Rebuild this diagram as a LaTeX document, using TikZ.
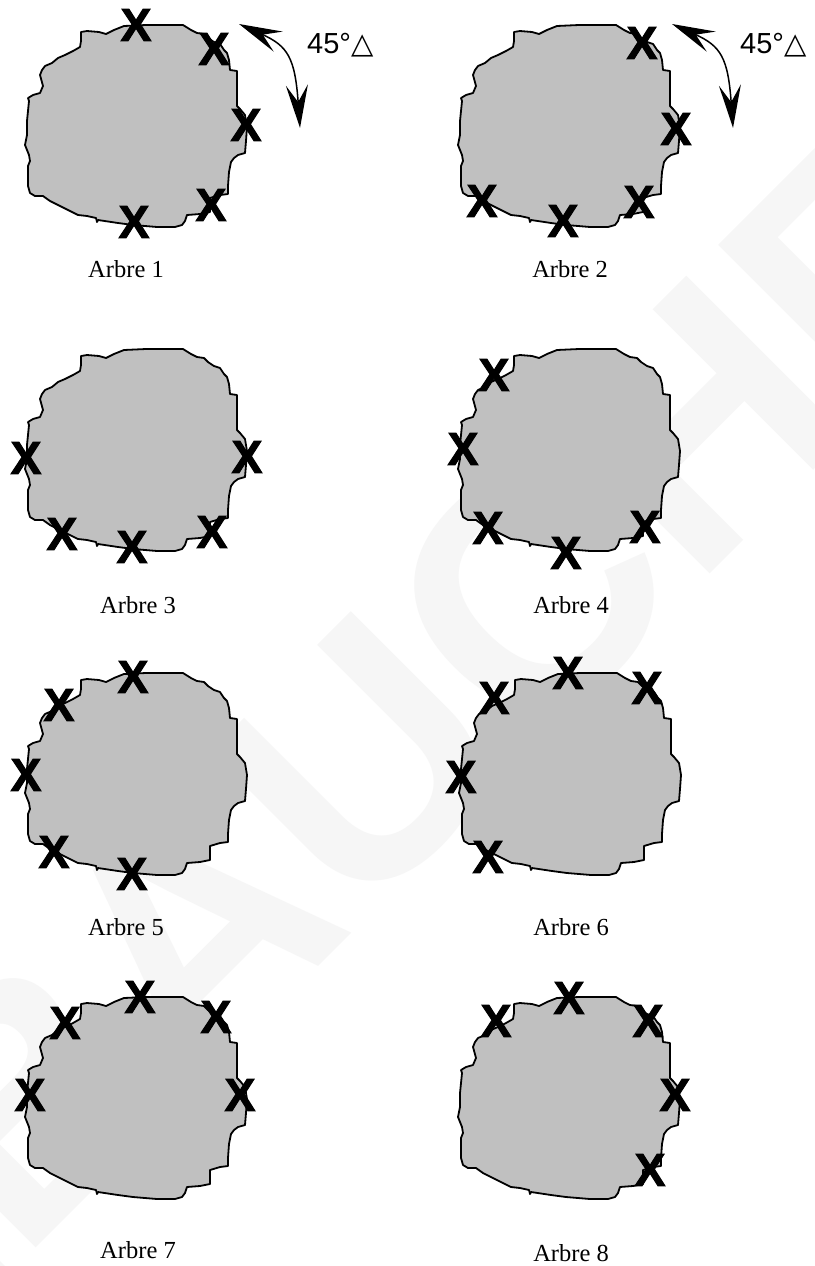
\documentclass[tikz,border=0pt]{standalone}
\usepackage{fontspec}
\setmainfont{Liberation Serif}
\newfontfamily\xsans{Liberation Sans}
\newfontfamily\xheavy{Liberation Sans Bold}[FakeBold=2.2]
\newfontfamily\dejavu{DejaVu Sans}
\usetikzlibrary{arrows.meta}
\definecolor{blobgray}{RGB}{192,192,192}
\definecolor{wmgray}{RGB}{246,246,246}
\newcommand{\treeblob}[3]{%
  \draw[blobstyle, shift={(#1,#2)}] (81,32) -- (87,31) -- (99,32) -- (106,34) -- (114,30) -- (124,26) -- (146,25) -- (183,25) -- (191,30) -- (197,33) -- (204,34) -- (208,38) -- (214,42) -- (220,44) -- (224,50) -- (227,53) -- (229,60) -- (230,70) -- (237,71) -- (237,106) -- (240,109) -- (245,115) -- (247,127) -- (246,141) -- (245,153) -- (238,155) -- (234,158) -- (231,162) -- (229,172) -- (228,186) -- (228,194) -- (220,195) -- (210,198) -- (210,212) -- (200,214) -- (187,215) -- (185,221) -- (182,225) -- (175,227) -- (157,227) -- (133,225) -- (118,223) -- (98,220) -- (97,222) -- (96,218) -- (87,216) -- (78,215) -- (70,211) -- (60,206) -- (50,201) -- (43,196) -- (35,196) -- (30,193) -- (28,186) -- (28,166) -- (30,161) -- (29,155) -- (27,150) -- (25,145) -- (27,135) -- (27,121) -- (29,101) -- (28,98) -- (33,95) -- (40,93) -- (43,86) -- (40,75) -- (42,70) -- (45,66) -- (52,63) -- (58,58) -- (65,55) -- (73,51) -- (80,47) -- (81,41) -- cycle;%
  \coordinate (#3) at (#1+136,#2+126);}
\tikzset{
  blobstyle/.style={fill=blobgray, draw=black, line width=1.8pt, line join=round},
  xmark/.style={inner sep=0pt, font={\xheavy\fontsize{46}{46}\selectfont}},
  treelabel/.style={inner sep=0pt, anchor=base, font={\fontsize{24.5}{28}\selectfont}},
  anglabel/.style={inner sep=0pt, anchor=base west, font={\xsans\fontsize{29}{30}\selectfont}},
  rotarrow/.style={line width=1.5pt, {Stealth[length=43pt,width=22pt,inset=17pt]}-{Stealth[length=43pt,width=22pt,inset=17pt]}}
}
\begin{document}
\begin{tikzpicture}[x=1pt,y=-1pt]
\useasboundingbox (0,0) rectangle (814,1266);
\fill[white] (0,0) rectangle (814,1266);
\node[rotate=45, text=wmgray, inner sep=0pt, font={\xsans\bfseries\fontsize{330}{330}\selectfont}] (wm) at (340,740) {ÉBAUCHE};
% blobs
\treeblob{0}{0}{c1}
\treeblob{433}{0}{c2}
\treeblob{0}{324}{c3}
\treeblob{433}{324}{c4}
\treeblob{0}{648}{c5}
\treeblob{434}{648}{c6}
\treeblob{0}{972}{c7}
\treeblob{433}{972}{c8}
% rotation arrows
\coordinate (t1) at (239,24);
\coordinate (b1) at (300,128);
\draw[rotarrow] (t1) .. controls (288,46) and (295,58) .. (b1);
\node[anglabel] (ang1) at (307,53) {45°{\dejavu △}};
\coordinate (t2) at (672,24);
\coordinate (b2) at (733,128);
\draw[rotarrow] (t2) .. controls (721,46) and (728,58) .. (b2);
\node[anglabel] (ang2) at (740,53) {45°{\dejavu △}};
% Arbre 1
\node[xmark] (x11) at (136,25) {X};
\node[xmark] (x12) at (214,49) {X};
\node[xmark] (x13) at (246,125) {X};
\node[xmark] (x14) at (211,205) {X};
\node[xmark] (x15) at (134,222) {X};
% Arbre 2
\node[xmark] (x21) at (642,43) {X};
\node[xmark] (x22) at (676,129) {X};
\node[xmark] (x23) at (639,202) {X};
\node[xmark] (x24) at (563,221) {X};
\node[xmark] (x25) at (482,201) {X};
% Arbre 3
\node[xmark] (x31) at (26,458) {X};
\node[xmark] (x32) at (247,457) {X};
\node[xmark] (x33) at (62,534) {X};
\node[xmark] (x34) at (132,547) {X};
\node[xmark] (x35) at (212,532) {X};
% Arbre 4
\node[xmark] (x41) at (494,375) {X};
\node[xmark] (x42) at (463,449) {X};
\node[xmark] (x43) at (488,528) {X};
\node[xmark] (x44) at (566,553) {X};
\node[xmark] (x45) at (645,527) {X};
% Arbre 5
\node[xmark] (x51) at (133,677) {X};
\node[xmark] (x52) at (59,705) {X};
\node[xmark] (x53) at (26,775) {X};
\node[xmark] (x54) at (54,852) {X};
\node[xmark] (x55) at (132,874) {X};
% Arbre 6
\node[xmark] (x61) at (568,673) {X};
\node[xmark] (x62) at (494,698) {X};
\node[xmark] (x63) at (647,688) {X};
\node[xmark] (x64) at (461,777) {X};
\node[xmark] (x65) at (488,857) {X};
% Arbre 7
\node[xmark] (x71) at (140,997) {X};
\node[xmark] (x72) at (65,1023) {X};
\node[xmark] (x73) at (216,1017) {X};
\node[xmark] (x74) at (30,1095) {X};
\node[xmark] (x75) at (240,1095) {X};
% Arbre 8
\node[xmark] (x81) at (569,998) {X};
\node[xmark] (x82) at (496,1021) {X};
\node[xmark] (x83) at (648,1021) {X};
\node[xmark] (x84) at (675,1095) {X};
\node[xmark] (x85) at (650,1170) {X};
% labels
\node[treelabel] (l1) at (126,277) {Arbre 1};
\node[treelabel] (l2) at (570,277) {Arbre 2};
\node[treelabel] (l3) at (138,613) {Arbre 3};
\node[treelabel] (l4) at (571,613) {Arbre 4};
\node[treelabel] (l5) at (126,935) {Arbre 5};
\node[treelabel] (l6) at (571,935) {Arbre 6};
\node[treelabel] (l7) at (138,1258) {Arbre 7};
\node[treelabel] (l8) at (571,1261) {Arbre 8};
\end{tikzpicture}
\end{document}
